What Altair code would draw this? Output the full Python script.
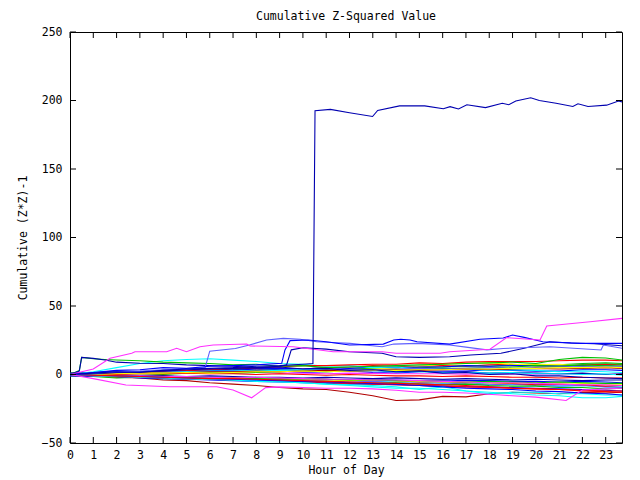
import altair as alt
import pandas as pd

# ---------------- data ----------------
HOURS = [0, 1, 2, 3, 4, 5, 6, 7, 8, 9, 10, 11, 12, 13, 14, 15, 16, 17, 18, 19, 20, 21, 22, 23, 23.7]
XTICKS = list(range(24))
YTICKS = [-50, 0, 50, 100, 150, 200, 250]

c01 = [0, 0.5, 1.5, 1, 2, 2.5, 3.5, 3, 3.5, 4.5, 4, 5, 5.5, 6.5, 6, 6, 6.5, 6, 7, 7.5, 6.5, 6, 7, 7.5, 7]
c02 = [1, 1.5, 1, 2, 2.5, 2, 3, 3.5, 4.5, 4, 3.5, 3, 4, 4.5, 5.5, 5, 5.5, 6.5, 6, 7, 7.5, 7, 8, 8.5, 8]
c03 = [0, -0.5, 0.5, 1, 0.5, 1.5, 1.5, 2.5, 2, 2.5, 1.5, 2, 2.5, 1.5, 1, 2, 2.5, 2.5, 3.5, 3, 2.5, 2.5, 3.5, 3.5, 3]
c04 = [0, 0.5, 0, 1, 1.5, 1, 0.5, 1, 1.5, 1, 1, 0.5, 1, 0.8, 0.5, 0.6, 0.5, 0.3, 0.5, 0.4, 0.3, 0.4, 0.3, 0.2, 0.3]
c05 = [0, -0.5, -0.5, -1.5, -1, -2, -2.5, -2, -3, -3.5, -3.5, -4.5, -4, -5, -5.5, -5.5, -6.5, -6, -7, -7.5, -7, -8.5, -8, -9, -9]
c06 = [0, -1, -2, -2.5, -4, -4.5, -6, -7, -8, -9.5, -10.5, -11, -13, -15.5, -19, -18.5, -16, -16.3, -14, -13, -13.5, -14, -13, -13.5, -13]
c07 = [0, 0.5, 1, 0.5, 1.5, 1, 2, 2, 2.5, 2, 3, 3.5, 3, 4, 4.5, 6, 7.5, 8, 8.5, 7.5, 7, 7.5, 6, 6.5, 5.5]
c08 = [0, -0.5, -1.5, -1, -2, -2.5, -2, -3, -3.5, -4.5, -4, -4.5, -5.5, -5, -6, -6.5, -6, -7, -7.5, -7, -8, -8.5, -8, -9, -9.5]
c09 = [1, 1.5, 2.5, 2, 3, 3.5, 3, 4, 4.5, 3.5, 3, 3.5, 2.5, 3, 2, 2.5, 1.5, 2, 1, 1.5, 1, 0.5, 1, 0, 0.5]
c10 = [0, -0.5, -1, -1.5, -1, -2, -2.5, -2, -3, -3, -3.5, -3.5, -4.5, -4, -4.5, -5.5, -5, -6, -6, -6.5, -7.5, -7, -7.5, -8.5, -8]
c11 = [-1, -1.5, -2.5, -2, -3, -3, -3.5, -4, -4.5, -4.5, -5.5, -5, -6, -6.5, -6, -7, -7.5, -7, -8, -8.5, -8.5, -9.5, -9.5, -10.5, -10]
c12 = [0, 0.5, 1.5, 1.5, 2.5, 2.5, 3, 3, 4, 4.5, 4, 5, 4.5, 5.5, 5, 5.5, 5.5, 6.5, 6, 6.5, 6.5, 6, 6.5, 5.5, 5.5]
c14 = [0, 2, 5, 8, 10, 11, 11.5, 10.5, 9.5, 8, 7.5, 6, 6.5, 5, 5.5, 4, 4.5, 4, 3, 3.5, 3, 2, 2.5, 2, 1.5]
c15 = [0, 0.5, 1.5, 1.5, 2.5, 3, 3.5, 4.5, 5, 5.5, 6.5, 6.5, 7, 7.5, 7.5, 8.5, 8, 9, 9.5, 9.5, 9.5, 10, 10.5, 10.5, 10]
c16 = [0, 0, 0.5, 0.5, 0, 1, 1.5, 1, 1.5, 2, 2.5, 2, 2.5, 3.5, 3, 3.5, 4.5, 4.5, 5, 5.5, 6.5, 6, 7, 6.5, 7]
c17 = [-1, -1.5, -1.5, -2, -2.5, -2, -2.5, -3, -3, -3.5, -3, -3.5, -4, -3.5, -4, -4.5, -4, -4.5, -4.5, -5, -5, -5.5, -5, -5.5, -6]
c18 = [0, -0.5, -1, -1.5, -1.5, -2, -2.5, -2.5, -3, -3.5, -3.5, -4, -4.5, -4, -4.5, -5, -5.5, -5.5, -6, -6, -6.5, -6, -6.5, -7, -7]
c19 = [0, 0.5, 1, 1, 1.5, 2, 2, 2.5, 2.5, 3, 3.5, 3, 3.5, 3.5, 4, 4.5, 4, 4.5, 5, 4.5, 5, 5.5, 5.5, 6, 6]
c20 = [0, 0, -0.5, -1, -1, -1.5, -1, -1.5, -2, -2, -2.5, -2, -2.5, -3, -2.5, -3, -3.5, -3, -3.5, -4, -3.5, -4, -4.5, -4, -4]
c21 = [0, 0.5, 0, 0.5, 0.5, 1, 0.5, 0.5, 0, 0.5, 0, -0.5, 0, -0.5, -1, -1, -1.5, -1, -1.5, -2, -2, -2.5, -2, -2.5, -2.5]
c22 = [0, -0.5, -1, -1.5, -2, -2, -2.5, -2.5, -3, -3.5, -3, -3.5, -4, -4, -4.5, -4.5, -5, -5.5, -5, -5.5, -6, -5.5, -6, -6.5, -6.5]
c23 = [0, -0.5, -1, -1, -1.5, -1.5, -2, -2.5, -2, -2.5, -3, -3.5, -3.5, -4, -4, -4.5, -5, -5.5, -6, -6, -6.5, -7, -7.5, -7.5, -8]
c24 = [0, 0.5, 1, 1.5, 1.5, 2, 2.5, 2.5, 3, 3, 3.5, 3, 2.5, 3, 2, 2, 1.5, 1.5, 1, 1.5, 0.5, 0.5, 0, 0.5, -0.5]
c25 = [0, 0.5, 1, 1.5, 1, 1.5, 2, 2, 2.5, 2, 2.5, 3, 2.5, 3, 3.5, 3, 3.5, 4, 3.5, 4, 4.5, 4, 4.5, 5, 4.5]
c26 = [0, 0, 0.5, 1, 1, 1.5, 1, 1.5, 2, 2, 2.5, 2, 2.5, 3, 3, 3.5, 3.5, 4, 4, 4.5, 4.5, 5, 5, 5.5, 5]
c27 = [0, -1, -1.5, -2.5, -3, -3.5, -4, -4.5, -5, -5.5, -6, -6.5, -7, -7, -7.5, -8, -8.5, -9, -9, -9.5, -10, -10.5, -11, -11.5, -12]
c28 = [0, -1, -1.5, -2, -2.5, -3, -3.5, -4, -4.5, -5, -5.5, -6, -6.5, -7, -7.5, -8, -8.5, -9, -9.5, -10, -10.5, -11, -11.5, -12, -12]
cyanL1 = [0, -0.5, -1, -1.5, -2, -3, -3.5, -4, -4.5, -5, -6, -7, -8, -9, -10, -10, -11, -12, -13, -14, -15, -15.5, -17, -17, -16]
cyanL2 = [0, -1, -1.5, -2, -2.5, -3, -3.5, -4, -5, -5.5, -6, -7, -7.5, -8, -9, -11, -9, -12, -14, -13, -13, -14, -14, -15, -15]
blueL = [0, -0.5, -1, -1.5, -2, -2.5, -3, -3.5, -4, -4.5, -5, -5.5, -6, -6.5, -7, -8, -9, -10, -10.5, -11, -12, -12.5, -13.5, -14, -15]
redL = [0, -0.5, -1, -1.5, -2, -2.5, -3, -3, -3.5, -4, -4.5, -5, -5.5, -6, -6.5, -7, -7.5, -8, -9, -10, -10.5, -11, -12, -12.5, -13]

LM_hours = [0, 1, 2.4, 4.3, 6.3, 7.0, 7.8, 8.4, 9, 10, 11, 12, 13, 14, 15, 16, 17, 18.5, 20, 21.3, 22, 23, 23.7]
LM_vals = [0, -3, -7.7, -8.9, -8.9, -11.3, -17, -9.6, -9, -9.5, -10, -10, -10.5, -11.5, -13, -13, -13.5, -15, -16.5, -19, -11.3, -10.5, -10]

BIG_hours = [0, 1, 2, 3, 4, 5, 6, 7, 8, 9, 10, 10.43, 10.52, 11.18, 12, 12.99, 13.21, 14.15, 15.23, 16.03,
             16.32, 16.68, 17.04, 17.84, 18.56, 18.84, 19.14, 19.78, 20.15, 20.87, 21.59, 21.81, 22.24, 23.04, 23.55, 23.7]
BIG_vals = [0, 1, 2, 1.5, 3, 4, 4.5, 5, 6, 6.5, 7.5, 8, 192.5, 193.5, 191, 188.3, 192.7, 196.1, 196.1, 194,
            195.5, 193.8, 196.9, 194.8, 198, 196.9, 199.6, 202, 200, 198, 195.6, 197.6, 195.6, 196.6, 199.6, 199]

A_hours = [0, 1, 2, 3, 4, 5, 6, 7, 8, 9.09, 9.23, 9.45, 10.23, 11.0, 12.0, 13.45, 13.9, 14.2, 14.6, 14.9,
           16.3, 17.6, 18.6, 19.0, 19.5, 20.3, 21.9, 23.7]
A_vals = [0, 1.5, 3, 3.5, 5, 4.5, 6, 6.5, 7, 8.2, 17.9, 24.7, 25.2, 23.9, 21.5, 22.2, 25.2, 25.7, 25.2, 23.9,
          22.2, 25.7, 26.6, 28.8, 27.1, 23.9, 22.7, 22.7]

B_hours = [0, 1, 2, 3, 4, 5, 5.8, 6.0, 7.1, 7.7, 8.44, 9.16, 9.88, 10.59, 12.02, 13.4, 13.9, 14.9, 16.3, 17.0,
           17.9, 18.6, 20.6, 22.8, 22.9, 23.7]
B_vals = [0, 1, 2, 2.5, 3.5, 4, 5, 17, 19, 21.5, 25.2, 26.4, 25.7, 23.9, 22.7, 20.3, 22.2, 22.7, 21.5, 20,
          18, 19, 20.3, 17.9, 21.5, 19.1]

C_hours = [0, 1, 2, 3, 4, 5, 6, 7, 8, 9, 9.3, 9.5, 10, 11, 12, 13.4, 14, 15, 16.3, 17.2,
           18.5, 19.5, 20.6, 21.5, 22.5, 23.7]
C_vals = [0, 0.5, 1.5, 2, 2.5, 3.5, 4, 4.5, 5, 6, 7, 18, 19.5, 18.5, 16.6, 15.5, 13, 12.5, 13, 14.2,
          15.5, 19.1, 23.9, 23, 22.5, 21]

D_hours = [0, 1, 1.72, 2.65, 2.79, 4.15, 4.58, 5.0, 5.58, 6.15, 7.59, 7.73, 9.59, 11.3, 13.4, 14.0,
           15.89, 16.3, 18.03, 18.75, 20.18, 20.47, 22.33, 23.7]
D_vals = [0, 4, 11.8, 15.5, 16.6, 16.6, 19.1, 16.6, 20.3, 21.5, 22.3, 20.8, 20.3, 16.6, 16.6, 15.5,
          15.5, 16.6, 18.4, 26.9, 25.2, 35.4, 38.5, 41]

E_hours = [0, 0.4, 0.5, 1, 1.5, 2, 3, 4, 5, 6, 7, 8, 9, 10, 11, 12, 13, 14, 15, 16, 17, 18, 19, 20, 21, 22, 23, 23.7]
E_vals = [0, 3, 12.5, 11.5, 11, 10.6, 10, 9, 8.5, 8, 7, 7.5, 6, 6.5, 5, 5.5, 6, 6.5, 7, 7.5, 8, 8.5, 9, 8, 11, 12.5, 12, 10.6]
F_vals = [0, 2.5, 12.5, 11.8, 10.6, 9, 8.2, 8, 7, 6.5, 6, 5, 5.5, 4, 4.5, 3, 3.5, 2, 2.5, 1, 1.5, 0, 0.5, -1, -1, -2, -2.5, -3]

RED, GREEN, BLUE, MAGENTA, CYAN = "#ff0000", "#00c000", "#0000ff", "#ff30ff", "#00ffff"
DARKRED, YELLOW, LIGHTBLUE, DARKBLUE = "#b00000", "#ffff00", "#6060ff", "#0000b0"

series = [
    ("c01", HOURS, c01, RED), ("c02", HOURS, c02, GREEN), ("c03", HOURS, c03, BLUE),
    ("c04", HOURS, c04, MAGENTA), ("c05", HOURS, c05, CYAN), ("c06", HOURS, c06, DARKRED),
    ("c07", HOURS, c07, YELLOW), ("c08", HOURS, c08, LIGHTBLUE), ("c09", HOURS, c09, DARKBLUE),
    ("c10", HOURS, c10, RED), ("c11", HOURS, c11, GREEN), ("c12", HOURS, c12, BLUE),
    ("c14", HOURS, c14, CYAN), ("c15", HOURS, c15, RED), ("c16", HOURS, c16, GREEN),
    ("c17", HOURS, c17, BLUE), ("c18", HOURS, c18, YELLOW), ("c19", HOURS, c19, LIGHTBLUE),
    ("c20", HOURS, c20, DARKBLUE), ("c21", HOURS, c21, RED), ("c22", HOURS, c22, GREEN),
    ("c23", HOURS, c23, MAGENTA), ("c24", HOURS, c24, CYAN), ("c25", HOURS, c25, DARKRED),
    ("c26", HOURS, c26, YELLOW), ("c27", HOURS, c27, BLUE), ("c28", HOURS, c28, RED),
    ("cyanL1", HOURS, cyanL1, CYAN), ("cyanL2", HOURS, cyanL2, CYAN),
    ("blueL", HOURS, blueL, BLUE), ("redL", HOURS, redL, RED),
    ("LM", LM_hours, LM_vals, MAGENTA),
    ("E", E_hours, E_vals, GREEN), ("F", E_hours, F_vals, DARKBLUE),
    ("C", C_hours, C_vals, DARKBLUE), ("B", B_hours, B_vals, LIGHTBLUE),
    ("A", A_hours, A_vals, BLUE), ("D", D_hours, D_vals, MAGENTA),
    ("BIG", BIG_hours, BIG_vals, DARKBLUE),
]

rows = []
for name, hrs, vals, _ in series:
    for h, v in zip(hrs, vals):
        rows.append({"series": name, "hour": h, "value": v})
df = pd.DataFrame(rows)
names = [s[0] for s in series]
colors = [s[3] for s in series]

W, H = 552, 411
FONT = "DejaVu Sans Mono"
FS = 11.5

xscale = alt.Scale(domain=[0, 23.7], nice=False, zero=False)
yscale = alt.Scale(domain=[-50, 250], nice=False, zero=False)
xaxis = alt.Axis(values=XTICKS, title="Hour of Day", labelPadding=6, titlePadding=4,
                 format="d", labelOverlap=False, labelFlush=False)
yaxis = alt.Axis(values=YTICKS, title="Cumulative (Z*Z)-1", labelPadding=8, titlePadding=13,
                 format="d", labelOverlap=False, labelFlush=False)

lines = alt.Chart(df).mark_line(strokeWidth=1.1, clip=True).encode(
    x=alt.X("hour:Q", scale=xscale, axis=xaxis),
    y=alt.Y("value:Q", scale=yscale, axis=yaxis),
    color=alt.Color("series:N", scale=alt.Scale(domain=names, range=colors), legend=None),
    order=alt.Order("hour:Q"),
)

xt = pd.DataFrame({"hour": XTICKS})
yt = pd.DataFrame({"value": YTICKS})
tick_b = alt.Chart(xt).mark_rule(color="black", strokeWidth=1).encode(
    x=alt.X("hour:Q", scale=xscale, axis=xaxis), y=alt.value(H), y2=alt.value(H - 6))
tick_t = alt.Chart(xt).mark_rule(color="black", strokeWidth=1).encode(
    x=alt.X("hour:Q", scale=xscale, axis=xaxis), y=alt.value(0), y2=alt.value(6))
tick_l = alt.Chart(yt).mark_rule(color="black", strokeWidth=1).encode(
    y=alt.Y("value:Q", scale=yscale, axis=yaxis), x=alt.value(0), x2=alt.value(6))
tick_r = alt.Chart(yt).mark_rule(color="black", strokeWidth=1).encode(
    y=alt.Y("value:Q", scale=yscale, axis=yaxis), x=alt.value(W), x2=alt.value(W - 6))

chart = alt.layer(lines, tick_b, tick_t, tick_l, tick_r).properties(
    width=W, height=H,
    title=alt.TitleParams("Cumulative Z-Squared Value", font=FONT, fontSize=FS, fontWeight="normal",
                          color="black", offset=4, anchor="middle"),
    autosize=alt.AutoSizeParams(type="none"),
    padding={"left": 62, "top": 24, "right": 10, "bottom": 37},
).configure_view(stroke="black", strokeWidth=1).configure_axis(
    domain=False, ticks=False, tickSize=0, grid=False,
    labelFont=FONT, labelFontSize=FS, labelColor="black",
    titleFont=FONT, titleFontSize=FS, titleFontWeight="normal", titleColor="black",
)

chart.save("out.html", embed_options={"renderer": "svg", "actions": False})
